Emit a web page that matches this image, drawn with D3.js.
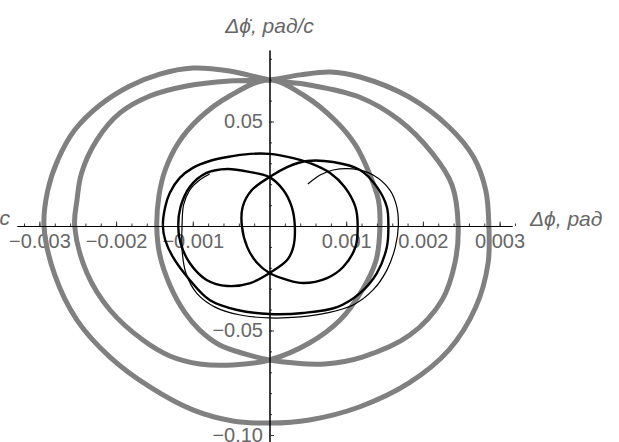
<!DOCTYPE html>
<html>
<head>
  <meta charset="utf-8">
  <title>Phase portrait</title>
  <script src="https://d3js.org/d3.v7.min.js"></script>
  <style>
    body { margin: 0; background: #fff; }
    text { font-family: "Liberation Sans", Arial, sans-serif; }
  </style>
</head>
<body>
  <div id="chart"></div>
<script>
  // phase trajectory data, Δφ (rad) and Δφ̇ (rad/s)
  // gray: closed orbit going round three times
  const grayPhi = [
    -0.00294, -0.00289, -0.00276, -0.00254, -0.00221, -0.00182, -0.00143, -0.00100, -0.00052, 0,
    0.00052, 0.00117, 0.00169, 0.00212, 0.00238, 0.00246,
    0.00242, 0.00225, 0.00183, 0.00121, 0.00072, 0.00033, 0, -0.00032, -0.00065, -0.00091,
    -0.00110, -0.00130, -0.00143, -0.00147,
    -0.00144, -0.00136, -0.00119, -0.00091, -0.00052, 0, 0.00046, 0.00085, 0.00112, 0.00131,
    0.00142, 0.00144,
    0.00139, 0.00121, 0.00092, 0.00052, 0, -0.00048, -0.00091, -0.00130, -0.00165, -0.00208,
    -0.00238, -0.00254,
    -0.00251, -0.00245, -0.00225, -0.00195, -0.00156, -0.00108, -0.00052, 0, 0.00040, 0.00079,
    0.00118, 0.00182, 0.00234, 0.00266, 0.00282, 0.00286,
    0.00285, 0.00269, 0.00234, 0.00182, 0.00117, 0.00052, 0, -0.00048, -0.00100, -0.00156,
    -0.00208, -0.00251, -0.00280
  ];
  const grayPhiDot = [
    0, 0.0172, 0.0316, 0.0459, 0.0579, 0.0670, 0.0727, 0.0756, 0.0742, 0.0699,
    0.0675, 0.0617, 0.0507, 0.0349, 0.0196, 0,
    -0.0172, -0.0354, -0.0522, -0.0627, -0.0660, -0.0656, -0.0641, -0.0612, -0.0569, -0.0498,
    -0.0416, -0.0282, -0.0139, 0,
    0.0148, 0.0268, 0.0397, 0.0517, 0.0622, 0.0699, 0.0622, 0.0507, 0.0388, 0.0244,
    0.0124, 0,
    -0.0163, -0.0306, -0.0450, -0.0560, -0.0641, -0.0665, -0.0660, -0.0622, -0.0546, -0.0402,
    -0.0225, 0,
    0.0124, 0.0254, 0.0412, 0.0541, 0.0622, 0.0670, 0.0694, 0.0699, 0.0723, 0.0737,
    0.0713, 0.0617, 0.0474, 0.0330, 0.0170, 0,
    -0.0177, -0.0388, -0.0593, -0.0751, -0.0866, -0.0928, -0.0943, -0.0933, -0.0880, -0.0770,
    -0.0627, -0.0450, -0.0234
  ];

  // black thick: two-turn orbit
  const orbitPhi = [
    -0.00139, -0.00136, -0.00130, -0.00117, -0.00100, -0.00078, -0.00055, -0.00025, 0, 0.00031,
    0.00053, 0.00079, 0.00098, 0.00112, 0.00115,
    0.00112, 0.00096, 0.00075, 0.00044, 0.00023, 0, -0.00016, -0.00029, -0.00036,
    -0.00035, -0.00023, 0, 0.00023, 0.00049, 0.00083, 0.00118, 0.00140, 0.00153, 0.00155,
    0.00153, 0.00140, 0.00118, 0.00088, 0.00044, 0, -0.00042, -0.00078, -0.00104, -0.00126,
    -0.00136
  ];
  const orbitPhiDot = [
    0, 0.0091, 0.0158, 0.0230, 0.0278, 0.0311, 0.0330, 0.0345, 0.0345, 0.0325,
    0.0301, 0.0254, 0.0187, 0.0091, 0,
    -0.0101, -0.0196, -0.0249, -0.0273, -0.0258, -0.0225, -0.0177, -0.0101, 0,
    0.0091, 0.0172, 0.0234, 0.0282, 0.0311, 0.0306, 0.0268, 0.0187, 0.0091, 0,
    -0.0101, -0.0225, -0.0321, -0.0388, -0.0416, -0.0421, -0.0402, -0.0354, -0.0258, -0.0148,
    -0.0067
  ];

  // black thick: small loop shifted left
  const loopPhi = [
    -0.00119, -0.00116, -0.00104, -0.00082, -0.00055, -0.00025, 0, 0.00018, 0.00029, 0.00033,
    0.00031, 0.00023, 0, -0.00025, -0.00055, -0.00082, -0.00104, -0.00116
  ];
  const loopPhiDot = [
    0, 0.0091, 0.0187, 0.0254, 0.0273, 0.0258, 0.0234, 0.0172, 0.0091, 0,
    -0.0101, -0.0163, -0.0225, -0.0273, -0.0287, -0.0258, -0.0177, -0.0081
  ];

  // black thin: transient from the start point
  const transPhi = [
    0.00050, 0.00066, 0.00083, 0.00109, 0.00135, 0.00157, 0.00166, 0.00168, 0.00164, 0.00153,
    0.00135, 0.00109, 0.00075, 0.00040, 0, -0.00038, -0.00071, -0.00095, -0.00109, -0.00114,
    -0.00114, -0.00112, -0.00104, -0.00091, -0.00078
  ];
  const transPhiDot = [
    0.0201, 0.0244, 0.0268, 0.0273, 0.0244, 0.0172, 0.0091, 0, -0.0101, -0.0211,
    -0.0306, -0.0378, -0.0416, -0.0435, -0.0440, -0.0426, -0.0388, -0.0321, -0.0225, -0.0115,
    0, 0.0101, 0.0172, 0.0220, 0.0249
  ];

  // ticks
  const xTicks = [-0.003, -0.002, -0.001, 0.001, 0.002, 0.003];
  const xTickLabels = ["\u22120.003", "\u22120.002", "\u22120.001", "0.001", "0.002", "0.003"];
  const yTicks = [0.05, -0.05, -0.1];
  const yTickLabels = ["0.05", "\u22120.05", "\u22120.10"];

  const W = 619, H = 442;
  const labelColor = "#666";

  const svg = d3.select("#chart")
    .append("svg")
      .attr("width", W)
      .attr("height", H);

  // scales
  const x = d3.scaleLinear().domain([-0.003, 0.003]).range([39.4, 499.6]);
  const y = d3.scaleLinear().domain([-0.1, 0.05]).range([435, 121.5]);

  // axis extents (axes cross at the origin)
  const xa = x.copy().domain([x.invert(17), x.invert(512)]).range([17, 512]);
  const ya = y.copy().domain([y.invert(460), y.invert(50)]).range([460, 50]);

  const x0 = x(0), y0 = y(0);

  // tick labels first, curves are painted over them
  svg.append("g")
    .attr("transform", `translate(0,${y0})`)
    .call(d3.axisBottom(xa).tickValues(xTicks).tickSize(0).tickPadding(8)
      .tickFormat((d, i) => xTickLabels[i]))
    .call(g => g.select(".domain").remove())
    .call(g => g.selectAll("text")
      .attr("fill", labelColor)
      .style("font-size", "20px")
      .style("font-family", "'Liberation Sans', Arial, sans-serif"));

  svg.append("g")
    .attr("transform", `translate(${x0},0)`)
    .call(d3.axisLeft(ya).tickValues(yTicks).tickSize(0).tickPadding(6.5)
      .tickFormat((d, i) => yTickLabels[i]))
    .call(g => g.select(".domain").remove())
    .call(g => g.selectAll("text")
      .attr("fill", labelColor)
      .style("font-size", "20px")
      .style("font-family", "'Liberation Sans', Arial, sans-serif"));

  // curves
  function pts(px, py) { return px.map((v, i) => [v, py[i]]); }

  const closedLine = d3.line()
    .x(d => x(d[0]))
    .y(d => y(d[1]))
    .curve(d3.curveCatmullRomClosed.alpha(0.5));
  const openLine = d3.line()
    .x(d => x(d[0]))
    .y(d => y(d[1]))
    .curve(d3.curveCatmullRom.alpha(0.5));

  svg.append("path")
    .datum(pts(grayPhi, grayPhiDot))
    .attr("fill", "none")
    .attr("stroke", "#808080")
    .attr("stroke-width", 5)
    .attr("d", closedLine);

  svg.append("path")
    .datum(pts(transPhi, transPhiDot))
    .attr("fill", "none")
    .attr("stroke", "#000")
    .attr("stroke-width", 1.2)
    .attr("d", openLine);

  svg.append("path")
    .datum(pts(orbitPhi, orbitPhiDot))
    .attr("fill", "none")
    .attr("stroke", "#000")
    .attr("stroke-width", 2.4)
    .attr("d", closedLine);

  svg.append("path")
    .datum(pts(loopPhi, loopPhiDot))
    .attr("fill", "none")
    .attr("stroke", "#000")
    .attr("stroke-width", 2.4)
    .attr("d", closedLine);

  // axis lines with minor/major tick marks on top
  const xMinor = d3.range(-32, 33, 2).map(k => k * 0.0001).filter(v => Math.abs(v) > 1e-9);
  const yMinor = d3.range(-11, 9).map(k => k * 0.01).filter(v => Math.abs(v) > 1e-9);

  svg.append("g")
    .attr("transform", `translate(0,${y0})`)
    .call(d3.axisTop(xa).tickValues(xMinor).tickSizeInner(2.5).tickSizeOuter(0).tickFormat(""))
    .call(g => g.selectAll(".tick line").attr("stroke", "#333"));
  svg.append("g")
    .attr("transform", `translate(0,${y0})`)
    .call(d3.axisTop(xa).tickValues(xTicks).tickSizeInner(4.5).tickSizeOuter(0).tickFormat(""))
    .call(g => g.select(".domain").attr("stroke", "#000"))
    .call(g => g.selectAll(".tick line").attr("stroke", "#333"));

  svg.append("g")
    .attr("transform", `translate(${x0},0)`)
    .call(d3.axisRight(ya).tickValues(yMinor).tickSizeInner(2.5).tickSizeOuter(0).tickFormat(""))
    .call(g => g.selectAll(".tick line").attr("stroke", "#333"));
  svg.append("g")
    .attr("transform", `translate(${x0},0)`)
    .call(d3.axisRight(ya).tickValues(yTicks).tickSizeInner(4.5).tickSizeOuter(0).tickFormat(""))
    .call(g => g.select(".domain").attr("stroke", "#000"))
    .call(g => g.selectAll(".tick line").attr("stroke", "#333"));

  // axis labels
  svg.append("text")
    .attr("x", x0)
    .attr("y", 33)
    .attr("text-anchor", "middle")
    .attr("fill", labelColor)
    .style("font-size", "21px")
    .style("font-style", "italic")
    .text("\u0394\u03d5\u0307, \u0440\u0430\u0434/\u0441");

  svg.append("text")
    .attr("x", 530)
    .attr("y", y0)
    .attr("fill", labelColor)
    .style("font-size", "21px")
    .style("font-style", "italic")
    .text("\u0394\u03d5, \u0440\u0430\u0434");

  // remainder of a label at the left edge
  svg.append("text")
    .attr("x", 10)
    .attr("y", y0 - 1)
    .attr("text-anchor", "end")
    .attr("fill", labelColor)
    .style("font-size", "21px")
    .style("font-style", "italic")
    .text("\u0441");
</script>
</body>
</html>
